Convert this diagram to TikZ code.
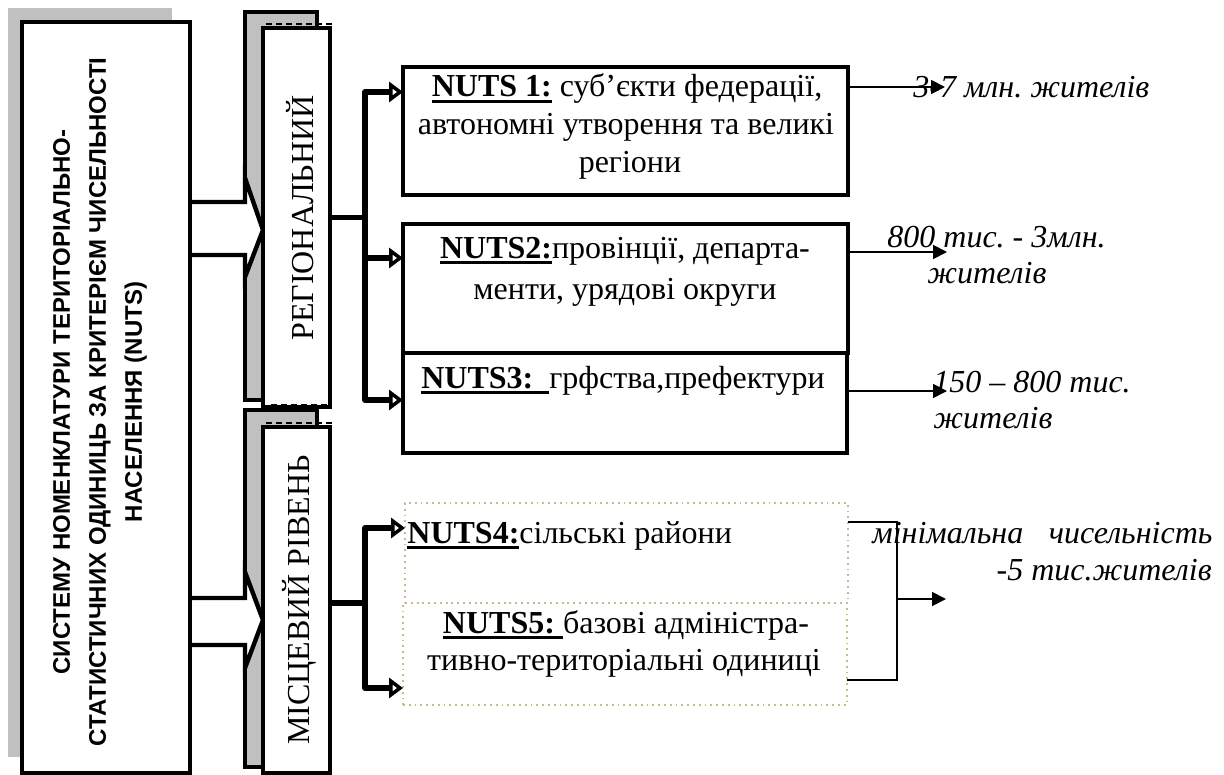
\documentclass[tikz,border=0pt]{standalone}
\usepackage{fontspec}
\setmainfont{Liberation Serif}
\newfontfamily\arialf{Liberation Sans}
\usetikzlibrary{arrows.meta,calc}
\definecolor{shadowgray}{RGB}{192,192,192}
\definecolor{dottan}{RGB}{200,186,140}
\newcommand\nutsul[1]{\setbox0\hbox{\textbf{#1}}\rlap{\rule[-3.2pt]{\wd0}{1.5pt}}\box0\relax}
\frenchspacing
\tikzset{
  shadowbox/.style={fill=shadowgray},
  shadowframe/.style={fill=shadowgray, draw, line width=2pt},
  thickbox/.style={draw, line width=2pt, fill=white, inner sep=0pt, outer sep=0pt},
  dotbox/.style={draw=dottan, dotted, line width=0.9pt, inner sep=0pt, outer sep=0pt},
  body/.style={font=\fontsize{16}{18.4}\selectfont, inner sep=0pt},
  lab/.style={font=\fontsize{16}{18.4}\selectfont\itshape, inner sep=0pt},
  blockarr/.style={draw, fill=white, line width=2.2pt, line join=miter},
  trunkline/.style={line width=2.6pt, line join=round},
  branch/.style={line width=2.6pt, line join=round, -{Triangle[length=7pt, width=10pt, fill=white]}},
  thinarr/.style={line width=0.9pt, -{Triangle[length=7pt, width=7pt]}},
  thinline/.style={line width=1.1pt},
  sidedash/.style={densely dashed, line width=0.6pt}
}
\begin{document}
\begin{tikzpicture}[x=0.5pt,y=-0.5pt]
\useasboundingbox (0,0) rectangle (1224,775);

% shadows
\fill[shadowbox] (8,8) rectangle (172,757);
\draw[shadowframe] (245,12) rectangle (317,400);
\draw[shadowframe] (245,410) rectangle (317,767);

% block arrows
\draw[blockarr] (190,202) -- (245,202) -- (245,178) -- (263,230) -- (245,277) -- (245,255) -- (190,255);
\draw[blockarr] (190,598) -- (245,598) -- (245,572) -- (263,620) -- (245,668) -- (245,645) -- (190,645);

% main box
\node[thickbox, minimum width=84pt, minimum height=375.5pt] (main) at (106,397.5) {};
\node[font=\arialf\bfseries\fontsize{12}{18}\selectfont, rotate=90, align=center, inner sep=0pt] (maintext) at (100,402)
  {СИСТЕМУ НОМЕНКЛАТУРИ ТЕРИТОРІАЛЬНО-\\СТАТИСТИЧНИХ ОДИНИЦЬ ЗА КРИТЕРІЄМ ЧИСЕЛЬНОСТІ\\НАСЕЛЕННЯ (NUTS)};

% level boxes
\node[thickbox, minimum width=33.5pt, minimum height=189.5pt] (reg) at (296.5,217.5) {};
\draw[sidedash] (266,24) -- (331,24) -- (331,405) -- (268,405);
\node[body, rotate=90] (regtext) at (300,218) {РЕГІОНАЛЬНИЙ};

\node[thickbox, minimum width=33.5pt, minimum height=173pt] (loc) at (296.5,600) {};
\draw[sidedash] (266,423) -- (331,423) -- (331,775);
\node[body, rotate=90] (loctext) at (299,600) {МІСЦЕВИЙ РІВЕНЬ};

% NUTS boxes
\node[thickbox, minimum width=222.5pt, minimum height=64pt] (n1) at (625.5,131) {};
\node[thickbox, minimum width=222.5pt, minimum height=64.5pt] (n2) at (625.5,288.5) {};
\node[thickbox, minimum width=222pt, minimum height=50pt] (n3) at (625,403) {};
\node[dotbox, minimum width=221.5pt, minimum height=50pt] (n4) at (626.5,553) {};
\node[dotbox, minimum width=222pt, minimum height=51pt] (n5) at (625,654) {};

% NUTS texts
\node[body, anchor=base] (t1a) at (627,97) {\nutsul{NUTS 1:} суб’єкти федерації,};
\node[body, anchor=base] (t1b) at (626,135) {автономні утворення та великі};
\node[body, anchor=base] (t1c) at (630,173) {регіони};
\node[body, anchor=base] (t2a) at (625,258) {\nutsul{NUTS2:}провінції, департа-};
\node[body, anchor=base] (t2b) at (625,299) {менти, урядові округи};
\node[body, anchor=base] (t3a) at (623,388) {\nutsul{NUTS3:\ \ }грфства,префектури};
\node[body, anchor=base west] (t4a) at (407,543) {\nutsul{NUTS4:}сільські райони};
\node[body, anchor=base] (t5a) at (626,633) {\nutsul{NUTS5:\ }базові адміністра-};
\node[body, anchor=base] (t5b) at (624,670) {тивно-територіальні одиниці};

% regional connectors
\coordinate (rj) at (365,217.5);
\coordinate (n1in) at ($(n1.north west)+(0,25)$);
\coordinate (n2in) at ($(n2.north west)+(0,34)$);
\coordinate (n3in) at ($(n3.north west)+(0,47)$);
\draw[trunkline] (reg.east) -- (rj);
\draw[branch] (rj) |- (n1in);
\draw[branch] (rj) |- (n2in);
\draw[branch] (rj) |- (n3in);

% local connectors
\coordinate (lj) at (365,603);
\coordinate (n4in) at ($(n4.north west)+(0,25)$);
\coordinate (n5in) at ($(n5.south west)+(0,-17)$);
\draw[trunkline] (loc.east |- lj) -- (lj);
\draw[branch] (lj) |- (n4in);
\draw[branch] (lj) |- (n5in);

% right labels
\node[lab, anchor=base west] (l1) at (913,98) {3-7 млн. жителів};
\node[lab, anchor=base west] (l2a) at (887,247) {800 тис. - 3млн.};
\node[lab, anchor=base west] (l2b) at (927,283) {жителів};
\node[lab, anchor=base west] (l3a) at (933,392) {150 – 800 тис.};
\node[lab, anchor=base west] (l3b) at (933,428) {жителів};
\node[lab, anchor=base west] (l4a) at (872,543) {\makebox[170pt][s]{мінімальна\hfill чисельність}};
\node[lab, anchor=base east] (l4b) at (1212,580) {-5 тис.жителів};

% right arrows
\coordinate (s1) at ($(n1.north east)+(0,20)$);
\coordinate (s2) at ($(n2.north east)+(0,28)$);
\coordinate (s3) at ($(n3.north east)+(0,38)$);
\coordinate (e1) at (945,87);
\coordinate (e2) at (947,252);
\coordinate (e3) at (947,391);
\draw[thinarr] (s1) -- (s1 -| e1);
\draw[thinarr] (s2) -- (s2 -| e2);
\draw[thinarr] (s3) -- (s3 -| e3);

% bracket
\coordinate (b4) at ($(n4.north east)+(0,19)$);
\coordinate (b5) at ($(n5.south east)+(0,-25)$);
\coordinate (bx) at (897,599);
\coordinate (e4) at (946,599);
\draw[thinline] (b4) -| (bx) |- (b5);
\draw[thinarr] (bx) -- (e4);
\end{tikzpicture}
\end{document}
